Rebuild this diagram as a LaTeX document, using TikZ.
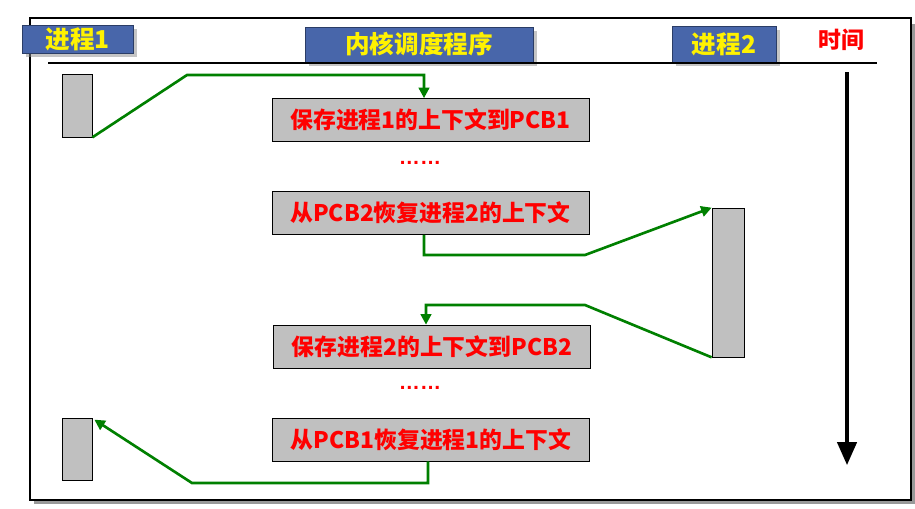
\documentclass[tikz,border=0pt]{standalone}
\usepackage{fontspec}
\newfontfamily\cjk{Noto Sans CJK SC}
\newfontfamily\lat{Liberation Sans}
\usepackage{tikz}
\usetikzlibrary{arrows.meta,%
                shadows,positioning}
\definecolor{pcbgray}{RGB}{192,192,192}
\definecolor{hdblue}{RGB}{72,102,170}
\definecolor{flowgreen}{RGB}{0,128,0}
\tikzset{
  header/.style={draw=hdblue!60!black,fill=hdblue,text=yellow,inner sep=0pt,
    font=\cjk\bfseries\fontsize{14}{14}\selectfont,
    drop shadow={shadow xshift=2pt,shadow yshift=-2pt,fill=black!45}},
  runbar/.style={draw,fill=pcbgray,inner sep=0pt,minimum width=0.6cm},
  ctxbox/.style={draw,fill=pcbgray,inner sep=0pt,minimum width=6.34cm,minimum height=0.86cm,
    text=red,font=\cjk\bfseries\fontsize{13}{13}\selectfont},
  dotline/.style={text=red,font=\lat\bfseries\fontsize{12}{12}\selectfont},
  switch/.style={draw=flowgreen,line width=1.5pt,-{Triangle[length=6pt,width=6pt]}},
}

\begin{document}
\begin{tikzpicture}[x=0.02cm,y=-0.02cm]
\useasboundingbox (0,0) rectangle (915,508);
\fill[black!40] (34,24) rectangle (915,504);
\draw[fill=white,line width=0.8pt] (30,18) rectangle (911,500);
\node[header,minimum width=2.22cm,minimum height=0.56cm] (hd1) at (77.5,39) {进程1};
\node[header,minimum width=4.56cm,minimum height=0.7cm] (hd2) at (419,44.5) {内核调度程序};
\node[header,minimum width=2.08cm,minimum height=0.72cm] (hd3) at (724,44) {进程2};
\node[text=red,font=\cjk\bfseries\fontsize{13}{13}\selectfont] (tm) at (841,40) {时间};
\draw[line width=0.6pt] (48,63) -- (877,63);
\coordinate (ttop) at (847,72);
\coordinate (tbot) at (847,465);
\draw[line width=1.8pt,-{Triangle[length=13pt,width=11pt]}] (ttop) -- (tbot);
\node[runbar,minimum height=1.26cm] (p1a) at (77,105.5) {};
\node[runbar,minimum height=1.24cm] (p1b) at (77,449) {};
\node[runbar,minimum width=0.64cm,minimum height=2.98cm] (p2) at (728,282.5) {};
\node[ctxbox] (save1) at (430.5,120) {保存进程1的上下文到PCB1};
\node[dotline] (dots1) at (420,163) {……};
\node[ctxbox] (load2) at (430.5,213) {从PCB2恢复进程2的上下文};
\node[ctxbox] (save2) at (432,346.5) {保存进程2的上下文到PCB2};
\node[dotline] (dots2) at (420,388) {……};
\node[ctxbox] (load1) at (431,439.5) {从PCB1恢复进程1的上下文};
\draw[switch] (p1a.south east) -- (187,75) -| ([xshift=-0.13cm]save1.north);
\draw[switch] ([xshift=-0.13cm]load2.south) |- (585,255) -- (p2.north west);
\draw[switch] (p2.south west) -- (585,305) -| ([xshift=-0.12cm]save2.north);
\draw[switch] ([xshift=-0.06cm]load1.south) |- (192,483) -- ([xshift=0.04cm,yshift=-0.04cm]p1b.north east);
\end{tikzpicture}
\end{document}
